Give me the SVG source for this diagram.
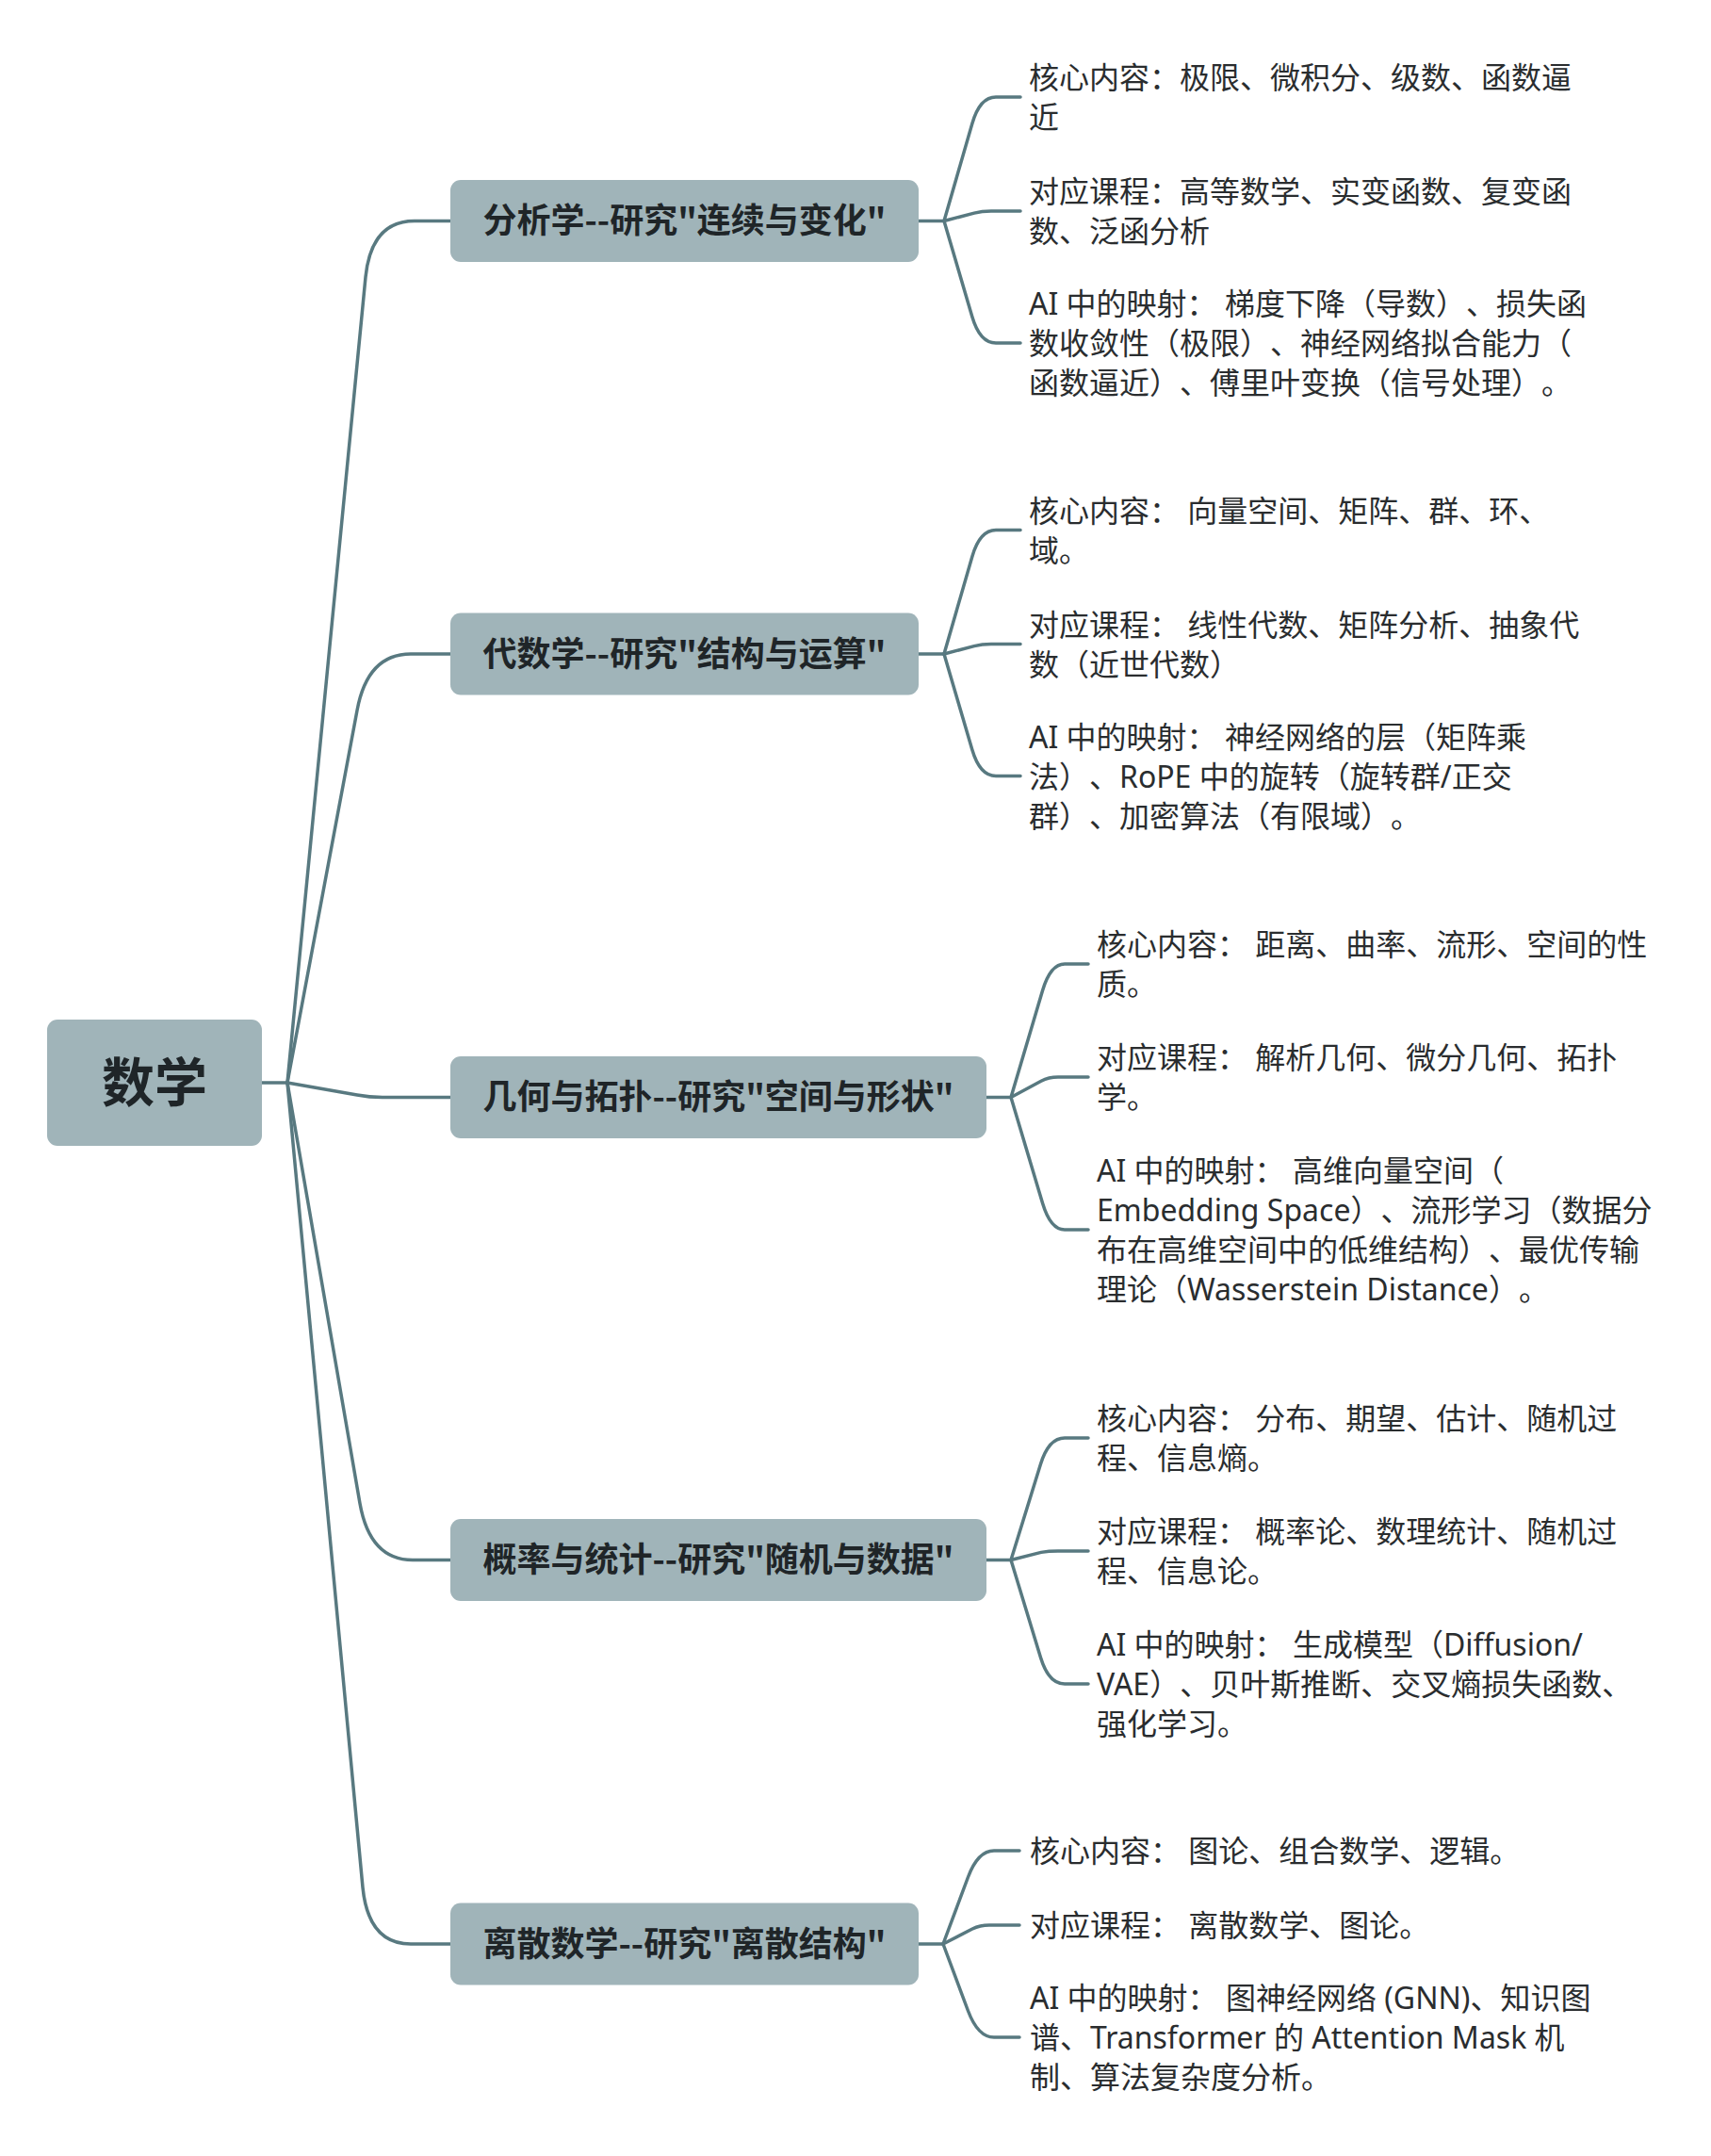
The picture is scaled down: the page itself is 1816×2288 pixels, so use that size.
<svg xmlns="http://www.w3.org/2000/svg" width="1816" height="2288" viewBox="0 0 1816 2288">
<style>
.node rect{fill:#a0b4b9;}
.title{font-family:"Noto Sans CJK SC","Noto Sans",sans-serif;font-weight:700;font-size:36px;fill:#1f2528;text-anchor:middle;}
.root{font-size:56px;}
.leaf{font-family:"Noto Sans","Noto Sans CJK SC",sans-serif;font-size:32px;fill:#2a2d2f;text-spacing-trim:space-all;}
.conn path{fill:none;stroke:#587980;stroke-width:3.5;stroke-linecap:round;stroke-linejoin:round;}
</style>
<rect x="0" y="0" width="1816" height="2288" fill="#ffffff"/>
<g id="connectors" class="conn">
<path d="M278,1149 L305,1149"/>
<path d="M305,1149 L388,294 Q394,234.5 440,234.5 L478,234.5"/>
<path d="M305,1149 L379,754 Q390,694 436,694 L478,694"/>
<path d="M305,1149 L379,1162 Q392,1164.5 406,1164.5 L478,1164.5"/>
<path d="M305,1149 L382,1595.5 Q392.6,1655.5 438,1655.5 L478,1655.5"/>
<path d="M305,1149 L385,2003 Q391,2063 436,2063 L478,2063"/>
<path d="M975,234.5 L1002,234.5"/>
<path d="M1002,234.5 L1031.9,131 Q1040,103 1057,103 L1083,103"/>
<path d="M1002,234.5 L1034,226.1 Q1042,224 1052,224 L1083,224"/>
<path d="M1002,234.5 L1031.8,336 Q1040,364 1057,364 L1083,364"/>
<path d="M975,694 L1002,694"/>
<path d="M1002,694 L1031.9,590.5 Q1040,562.5 1057,562.5 L1083,562.5"/>
<path d="M1002,694 L1034,685.6 Q1042,683.5 1052,683.5 L1083,683.5"/>
<path d="M1002,694 L1031.8,795.5 Q1040,823.5 1057,823.5 L1083,823.5"/>
<path d="M1047,1164.5 L1073,1164.5"/>
<path d="M1073,1164.5 L1106.6,1051 Q1115,1023 1130,1023 L1155,1023"/>
<path d="M1073,1164.5 L1105,1147.2 Q1113,1143 1123,1143 L1155,1143"/>
<path d="M1073,1164.5 L1106.6,1277 Q1115,1305 1130,1305 L1155,1305"/>
<path d="M1047,1655.5 L1073,1655.5"/>
<path d="M1073,1655.5 L1104.4,1554 Q1113,1526 1130,1526 L1155,1526"/>
<path d="M1073,1655.5 L1105,1647.4 Q1113,1646 1123,1646 L1155,1646"/>
<path d="M1073,1655.5 L1104.5,1759 Q1113,1787 1130,1787 L1155,1787"/>
<path d="M975,2063 L1001,2063"/>
<path d="M1001,2063 L1027.5,1992 Q1038,1964 1055,1964 L1082,1964"/>
<path d="M1001,2063 L1032,2047 Q1040,2043 1050,2043 L1082,2043"/>
<path d="M1001,2063 L1027.5,2134 Q1038,2162 1055,2162 L1082,2162"/>
</g>
<g id="root" class="node">
<rect x="50" y="1082" width="228" height="134" rx="11"/>
<text class="title root" x="164" y="1169">数学</text>
</g>
<g id="analysis" class="node">
<rect x="478" y="191" width="497" height="87" rx="11"/>
<text class="title" x="726.5" y="247">分析学--研究"连续与变化"</text>
</g>
<g id="algebra" class="node">
<rect x="478" y="650.5" width="497" height="87" rx="11"/>
<text class="title" x="726.5" y="706.5">代数学--研究"结构与运算"</text>
</g>
<g id="geometry" class="node">
<rect x="478" y="1121" width="569" height="87" rx="11"/>
<text class="title" x="762.5" y="1177">几何与拓扑--研究"空间与形状"</text>
</g>
<g id="probability" class="node">
<rect x="478" y="1612" width="569" height="87" rx="11"/>
<text class="title" x="762.5" y="1668">概率与统计--研究"随机与数据"</text>
</g>
<g id="discrete" class="node">
<rect x="478" y="2019.5" width="497" height="87" rx="11"/>
<text class="title" x="726.5" y="2075.5">离散数学--研究"离散结构"</text>
</g>
<g id="analysis-core"><text class="leaf" x="1092" y="94"><tspan x="1092">核心内容：极限、微积分、级数、函数逼</tspan><tspan x="1092" dy="42">近</tspan></text></g>
<g id="analysis-course"><text class="leaf" x="1092" y="215"><tspan x="1092">对应课程：高等数学、实变函数、复变函</tspan><tspan x="1092" dy="42">数、泛函分析</tspan></text></g>
<g id="analysis-ai"><text class="leaf" x="1092" y="334"><tspan x="1092">AI 中的映射： 梯度下降（导数）、损失函</tspan><tspan x="1092" dy="42">数收敛性（极限）、神经网络拟合能力（</tspan><tspan x="1092" dy="42">函数逼近）、傅里叶变换（信号处理）。</tspan></text></g>
<g id="algebra-core"><text class="leaf" x="1092" y="553.5"><tspan x="1092">核心内容： 向量空间、矩阵、群、环、</tspan><tspan x="1092" dy="42">域。</tspan></text></g>
<g id="algebra-course"><text class="leaf" x="1092" y="674.5"><tspan x="1092">对应课程： 线性代数、矩阵分析、抽象代</tspan><tspan x="1092" dy="42">数（近世代数）</tspan></text></g>
<g id="algebra-ai"><text class="leaf" x="1092" y="793.5"><tspan x="1092">AI 中的映射： 神经网络的层（矩阵乘</tspan><tspan x="1092" dy="42">法）、RoPE 中的旋转（旋转群/正交</tspan><tspan x="1092" dy="42">群）、加密算法（有限域）。</tspan></text></g>
<g id="geometry-core"><text class="leaf" x="1164" y="1014"><tspan x="1164">核心内容： 距离、曲率、流形、空间的性</tspan><tspan x="1164" dy="42">质。</tspan></text></g>
<g id="geometry-course"><text class="leaf" x="1164" y="1134"><tspan x="1164">对应课程： 解析几何、微分几何、拓扑</tspan><tspan x="1164" dy="42">学。</tspan></text></g>
<g id="geometry-ai"><text class="leaf" x="1164" y="1254"><tspan x="1164">AI 中的映射： 高维向量空间（</tspan><tspan x="1164" dy="42">Embedding Space）、流形学习（数据分</tspan><tspan x="1164" dy="42">布在高维空间中的低维结构）、最优传输</tspan><tspan x="1164" dy="42">理论（Wasserstein Distance）。</tspan></text></g>
<g id="probability-core"><text class="leaf" x="1164" y="1517"><tspan x="1164">核心内容： 分布、期望、估计、随机过</tspan><tspan x="1164" dy="42">程、信息熵。</tspan></text></g>
<g id="probability-course"><text class="leaf" x="1164" y="1637"><tspan x="1164">对应课程： 概率论、数理统计、随机过</tspan><tspan x="1164" dy="42">程、信息论。</tspan></text></g>
<g id="probability-ai"><text class="leaf" x="1164" y="1757"><tspan x="1164">AI 中的映射： 生成模型（Diffusion/</tspan><tspan x="1164" dy="42">VAE）、贝叶斯推断、交叉熵损失函数、</tspan><tspan x="1164" dy="42">强化学习。</tspan></text></g>
<g id="discrete-core"><text class="leaf" x="1093" y="1976">核心内容： 图论、组合数学、逻辑。</text></g>
<g id="discrete-course"><text class="leaf" x="1093" y="2055">对应课程： 离散数学、图论。</text></g>
<g id="discrete-ai"><text class="leaf" x="1093" y="2132"><tspan x="1093">AI 中的映射： 图神经网络 (GNN)、知识图</tspan><tspan x="1093" dy="42">谱、Transformer 的 Attention Mask 机</tspan><tspan x="1093" dy="42">制、算法复杂度分析。</tspan></text></g>
</svg>
